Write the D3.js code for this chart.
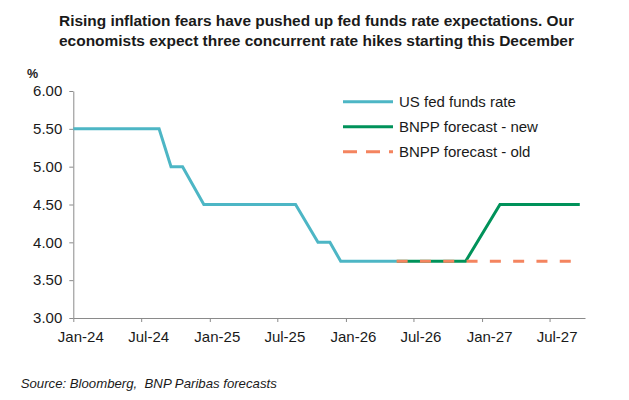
<!DOCTYPE html>
<html>
<head>
<meta charset="utf-8">
<script src="https://cdn.jsdelivr.net/npm/d3@7"></script>
<style>
  body { margin: 0; background: #fff; }
  svg { font-family: "Liberation Sans", Arial, sans-serif; }
</style>
</head>
<body>
<div id="chart"></div>
<script>
// Fed funds rate (actual), BNPP forecasts
const fedDates = ["2024-01-01", "2024-08-18", "2024-09-19", "2024-10-20", "2024-12-16",
                  "2025-08-19", "2025-10-18", "2025-11-19", "2025-12-18", "2026-05-17"];
const fedValues = [5.5, 5.5, 5.0, 5.0, 4.5, 4.5, 4.0, 4.0, 3.75, 3.75];

const newDates = ["2026-05-17", "2026-11-18", "2027-02-18", "2027-09-20"];
const newValues = [3.75, 3.75, 4.5, 4.5];

const oldDates = ["2026-05-17", "2027-09-20"];
const oldValues = [3.75, 3.75];

const yTicks = [3, 3.5, 4, 4.5, 5, 5.5, 6];
const xTickDates = ["2024-01-01", "2024-07-01", "2025-01-01", "2025-07-01",
                    "2026-01-01", "2026-07-01", "2027-01-01", "2027-07-01"];

const titleLines = [
    "Rising inflation fears have pushed up fed funds rate expectations. Our",
    "economists expect three concurrent rate hikes starting this December"
];
const legendLabels = ["US fed funds rate", "BNPP forecast - new", "BNPP forecast - old"];
const colors = ["#4db6c5", "#00925a", "#f4845f"];

const parse = d3.timeParse("%Y-%m-%d");
const fmt = d3.timeFormat("%b-%y");

const svg = d3.select("#chart").append("svg")
    .attr("width", 629)
    .attr("height", 400);

const x = d3.scaleTime()
    .domain([parse("2024-01-01"), parse("2027-10-04")])
    .range([73.3, 585]);

const y = d3.scaleLinear()
    .domain([3, 6])
    .range([318, 91]);

// title
svg.selectAll(".title")
    .data(titleLines)
    .enter().append("text")
    .attr("x", 316.5)
    .attr("y", (d, i) => 25.7 + i * 20)
    .attr("text-anchor", "middle")
    .attr("textLength", 515)
    .attr("lengthAdjust", "spacingAndGlyphs")
    .style("font-size", "15px")
    .style("font-weight", "bold")
    .style("fill", "#1a1a1a")
    .text(d => d);

svg.append("text")
    .attr("x", 27)
    .attr("y", 77.7)
    .style("font-size", "12.5px")
    .style("font-weight", "bold")
    .style("fill", "#1a1a1a")
    .text("%");

// axes
const yAxis = svg.append("g")
    .attr("transform", "translate(" + x.range()[0] + ",0)")
    .call(d3.axisLeft(y).tickValues(yTicks).tickSize(4).tickSizeOuter(0).tickPadding(7)
        .tickFormat(d3.format(".2f")));

const xAxis = svg.append("g")
    .attr("transform", "translate(0," + y.range()[0] + ")")
    .call(d3.axisBottom(x).tickValues(xTickDates.map(parse)).tickSize(4).tickSizeOuter(0)
        .tickFormat(fmt));

[yAxis, xAxis].forEach(g => {
    g.select(".domain").attr("stroke", "#8a8a8a");
    g.selectAll(".tick line").attr("stroke", "#8a8a8a");
    g.selectAll(".tick text")
        .style("font-size", "15px")
        .style("font-family", "\"Liberation Sans\", Arial, sans-serif")
        .attr("fill", "#1a1a1a");
});
// labels sit a little right of the month tick
xAxis.selectAll(".tick text").attr("x", 7).attr("y", 23.5).attr("dy", null);

// lines
const line = d3.line()
    .x(d => x(d[0]))
    .y(d => y(d[1]));

const series = [
    { dates: fedDates, values: fedValues, dash: null },
    { dates: newDates, values: newValues, dash: null },
    { dates: oldDates, values: oldValues, dash: "11,12.3" }
];

series.forEach((s, i) => {
    const pts = s.dates.map((d, j) => [parse(d), s.values[j]]);
    svg.append("path")
        .datum(pts)
        .attr("d", line)
        .attr("fill", "none")
        .attr("stroke", colors[i])
        .attr("stroke-width", 3)
        .attr("stroke-dasharray", s.dash);
});

// legend
const legend = svg.append("g");
legendLabels.forEach((label, i) => {
    const ly = 101.7 + i * 25;
    legend.append("line")
        .attr("x1", 343).attr("x2", 393)
        .attr("y1", ly).attr("y2", ly)
        .attr("stroke", colors[i])
        .attr("stroke-width", 3)
        .attr("stroke-dasharray", series[i].dash ? "14,9" : null);
    legend.append("text")
        .attr("x", 399)
        .attr("y", ly + 5.3)
        .style("font-size", "15px")
        .style("fill", "#1a1a1a")
        .text(label);
});

// source
svg.append("text")
    .attr("x", 20.7)
    .attr("y", 387.7)
    .style("font-size", "13.2px")
    .style("font-style", "italic")
    .style("white-space", "pre")
    .style("fill", "#1a1a1a")
    .text("Source: Bloomberg,  BNP Paribas forecasts");
</script>
</body>
</html>
